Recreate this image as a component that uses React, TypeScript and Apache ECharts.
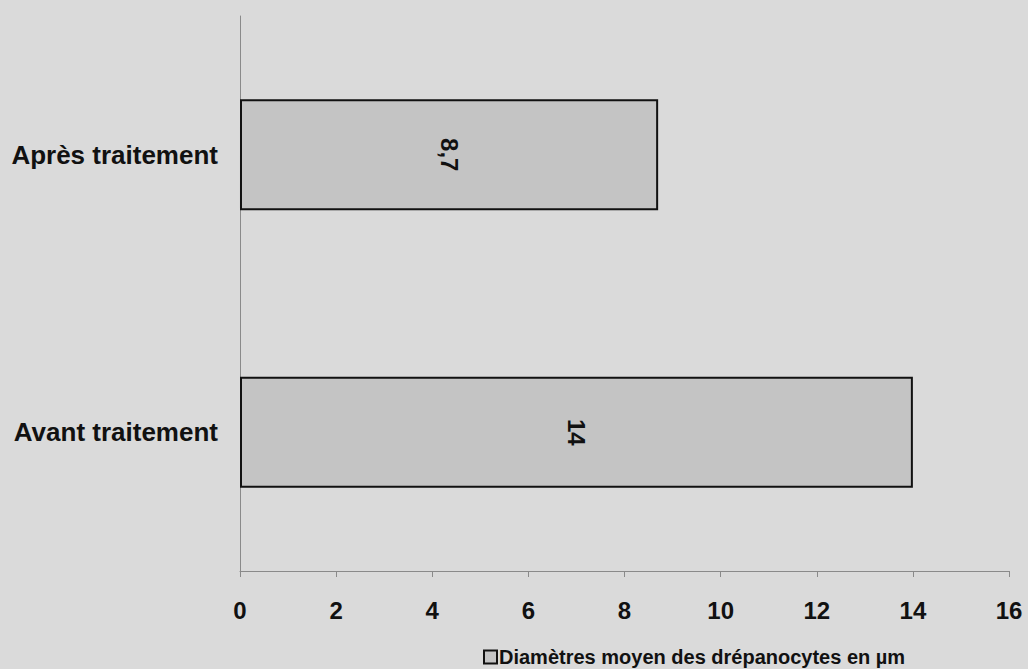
import React, { useEffect, useRef } from "react";
import * as echarts from "echarts";

// Categories listed bottom to top (category axis runs upward on a horizontal bar chart)
const categories = ["Avant traitement", "Après traitement"];
const diameters = [14, 8.7];
const seriesName = "Diamètres moyen des drépanocytes en µm";
const xTicks = { min: 0, max: 16, interval: 2 };

const FONT = '"Liberation Sans", Arial, Helvetica, sans-serif';

export default function App() {
  const ref = useRef<HTMLDivElement>(null);

  useEffect(() => {
    if (!ref.current) return;
    const chart = echarts.init(ref.current, undefined, { renderer: "svg" });
    chart.setOption({
      animation: false,
      backgroundColor: "#dadada",
      textStyle: { fontFamily: FONT },
      grid: { left: 240, right: 19, top: 16, bottom: 98, containLabel: false },
      legend: {
        left: 483,
        top: 646,
        padding: 0,
        itemWidth: 13,
        itemHeight: 13,
        icon: "rect",
        textStyle: {
          fontSize: 20,
          lineHeight: 22,
          fontWeight: "bold",
          color: "#111",
          fontFamily: FONT,
          padding: [0, 0, 0, -3],
        },
        data: [seriesName],
      },
      xAxis: {
        type: "value",
        min: xTicks.min,
        max: xTicks.max,
        interval: xTicks.interval,
        axisLine: { show: true, lineStyle: { color: "#8a8a8a", width: 1 } },
        axisTick: { show: true, length: 6, lineStyle: { color: "#8a8a8a" } },
        splitLine: { show: false },
        axisLabel: {
          margin: 27,
          fontSize: 24,
          fontWeight: "bold",
          color: "#111",
          fontFamily: FONT,
        },
      },
      yAxis: {
        type: "category",
        data: categories,
        axisLine: { show: true, lineStyle: { color: "#8a8a8a", width: 1 } },
        axisTick: { show: false },
        splitLine: { show: false },
        axisLabel: {
          margin: 22,
          fontSize: 26,
          fontWeight: "bold",
          color: "#111",
          fontFamily: FONT,
        },
      },
      series: [
        {
          name: seriesName,
          type: "bar",
          data: diameters,
          barWidth: "40%",
          itemStyle: { color: "#c4c4c4", borderColor: "#111", borderWidth: 2 },
          label: {
            show: true,
            position: "inside",
            rotate: -90,
            fontSize: 24,
            fontWeight: "bold",
            color: "#111",
            fontFamily: FONT,
            formatter: (p: any) => String(p.value).replace(".", ","),
          },
        },
      ],
    });
    return () => chart.dispose();
  }, []);

  return (
    <div
      ref={ref}
      style={{ position: "fixed", left: 0, top: 0, width: 1028, height: 669 }}
    />
  );
}
